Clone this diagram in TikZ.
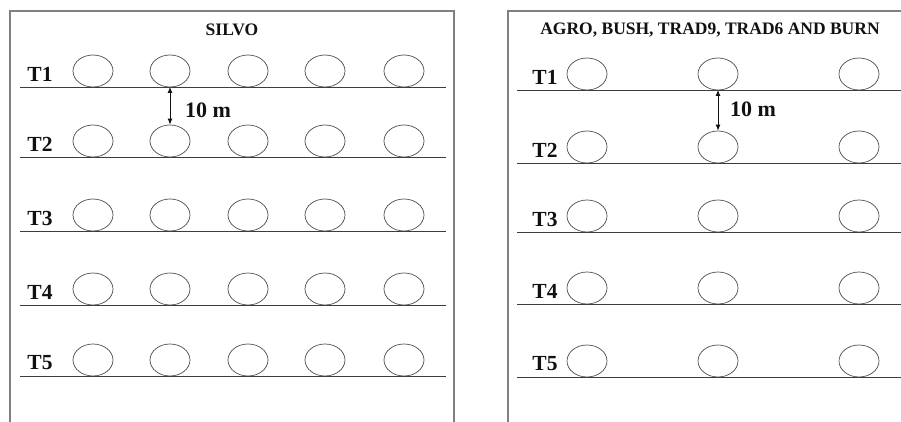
\documentclass[tikz,border=0pt]{standalone}
\usepackage{fontspec}
\setmainfont{Liberation Serif}
\usetikzlibrary{arrows.meta,shapes.geometric}
\definecolor{plotFrame}{HTML}{808080}
\definecolor{plotRow}{HTML}{3C3C3C}
\definecolor{plotTree}{HTML}{4A4A4A}
\definecolor{plotText}{HTML}{111111}

\begin{document}
\begin{tikzpicture}[
    x=1pt,y=-1pt,>=Latex,
    every node/.style={text=plotText},
    frame/.style={draw=plotFrame,line width=1.6pt},
    row/.style={draw=plotRow,line width=0.9pt},
    tree/.style={draw=plotTree,ellipse,line width=0.7pt,minimum width=40pt,minimum height=32pt,inner sep=0pt},
    rowlabel/.style={font=\fontsize{21.5}{21.5}\selectfont\bfseries,inner sep=0pt},
    title/.style={font=\fontsize{17.5}{17.5}\selectfont\bfseries,inner sep=0pt},
    spacing/.style={font=\fontsize{22}{22}\selectfont\bfseries,inner sep=0pt,anchor=west},
    gap/.style={{Latex[length=6pt,width=5pt]}-{Latex[length=6pt,width=5pt]},draw=plotText,line width=0.9pt}
]
\useasboundingbox (0,0) rectangle (901,422);
% plot frames
\draw[frame] (10,422) -- (10,11) -- (454,11) -- (454,422);
\draw[frame] (508,422) -- (508,11) -- (901,11);
\node[title] (silvo) at (232,30) {SILVO};
\node[title] (others) at (710,30) {AGRO, BUSH, TRAD9, TRAD6 AND BURN};
% left plot, five trees per row
\foreach \t/\y in {1/87,2/157,3/231,4/305,5/376} {
  \node[rowlabel] (tL\t) at (40,\y-13) {T\t};
  \draw[row] (20,\y) -- (446,\y);
  \foreach \c/\x in {1/93,2/170,3/248,4/325,5/404}
    \node[tree] (sL\t\c) at (\x,\y-16) {};
}
% right plot, three trees per row
\foreach \t/\y in {1/90,2/163,3/232,4/304,5/377} {
  \node[rowlabel] (tR\t) at (545,\y-13) {T\t};
  \draw[row] (517,\y) -- (901,\y);
  \foreach \c/\x in {1/587,2/718,3/859}
    \node[tree] (sR\t\c) at (\x,\y-16) {};
}
% row spacing
\coordinate (gL) at (170,87);
\coordinate (gR) at (718,90);
\draw[gap] (gL) -- (sL22.north);
\draw[gap] (gR) -- (sR22.north);
\node[spacing] (mL) at (185,110) {10 m};
\node[spacing] (mR) at (730,109) {10 m};
\end{tikzpicture}
\end{document}
